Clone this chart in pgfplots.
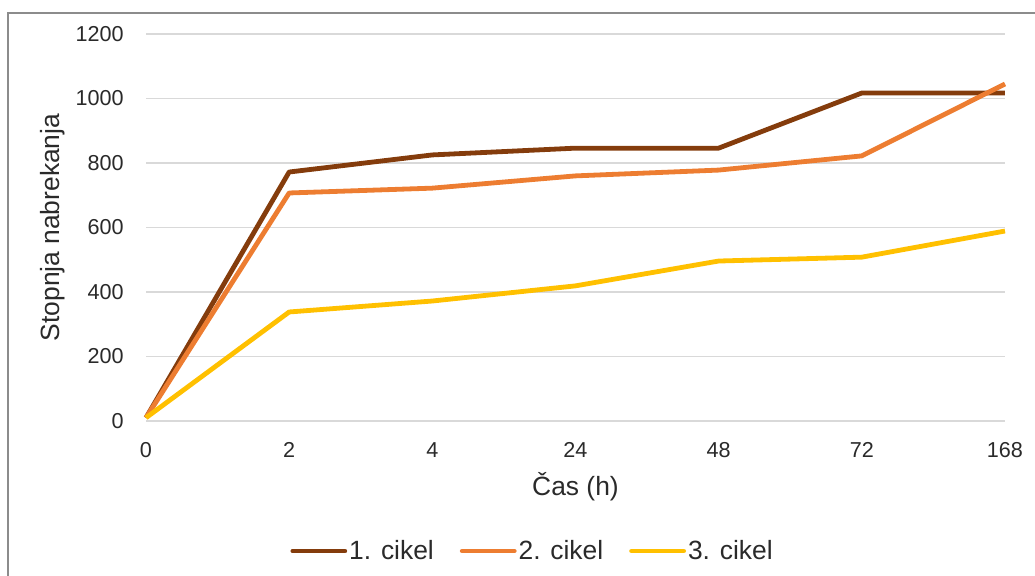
\documentclass[border=0pt]{standalone}
\usepackage{pgfplots}
\pgfplotsset{compat=1.18}
\usepackage{fontspec}
\setmainfont{Liberation Sans}
\definecolor{c1}{HTML}{843C0C}
\definecolor{c2}{HTML}{ED7D31}
\definecolor{c3}{HTML}{FFC000}
\definecolor{gridc}{HTML}{D9D9D9}
\definecolor{txt}{HTML}{2A2A2A}
\definecolor{frame}{HTML}{8C8C8C}
\begin{document}
\begin{tikzpicture}
\path[use as bounding box] (0,0) rectangle (517.5pt,288pt);
\draw[color=frame, line width=1pt] (4pt,-2pt) -- (4pt,281.5pt) -- (520pt,281.5pt);
\begin{axis}[
  at={(73pt,77.5pt)}, anchor=south west,
  scale only axis, width=429.5pt, height=193.5pt,
  xmin=0, xmax=6, ymin=0, ymax=1200,
  xtick={0,...,6}, xticklabels={0,2,4,24,48,72,168},
  ytick={0,200,...,1200},
  ymajorgrids, grid style={gridc, line width=0.75pt},
  axis line style={draw=none},
  major tick length=0pt,
  /pgf/number format/assume math mode=true,
  /pgf/number format/1000 sep={},
  ticklabel style={font=\fontsize{10.8}{12}\selectfont, text=txt},
  xticklabel style={anchor=center, yshift=-14.5pt},
  yticklabel style={anchor=east, inner sep=0pt, xshift=-11pt},
  xlabel={Čas (h)}, ylabel={Stopnja nabrekanja},
  label style={font=\fontsize{13.2}{15}\selectfont, text=txt},
  xlabel style={at={(axis description cs:0.5,-0.1705)}, anchor=center},
  ylabel style={at={(axis description cs:-0.1083,0.5)}, anchor=center, rotate=0},
  legend style={at={(axis description cs:0.45,-0.336)}, anchor=center, draw=none, fill=none,
    font=\fontsize{13.2}{15}\selectfont, text=txt, nodes={inner sep=1pt},
    /tikz/every even column/.append style={column sep=12pt}},
  legend columns=3,
  legend image code/.code={\draw[#1, line width=2.4pt, line cap=round] (0pt,0pt) -- (26pt,0pt);},
  clip=false,
  every axis plot/.append style={line width=2.4pt, line join=round},
]
\addplot[c1] coordinates {(0,10) (1,772) (2,825) (3,846) (4,846) (5,1017) (6,1017)};
\addlegendentry{1. cikel}
\addplot[c2] coordinates {(0,10) (1,707) (2,722) (3,760) (4,778) (5,822) (6,1045)};
\addlegendentry{2. cikel}
\addplot[c3] coordinates {(0,10) (1,338) (2,372) (3,419) (4,496) (5,508) (6,589)};
\addlegendentry{3. cikel}
\end{axis}
\end{tikzpicture}
\end{document}
